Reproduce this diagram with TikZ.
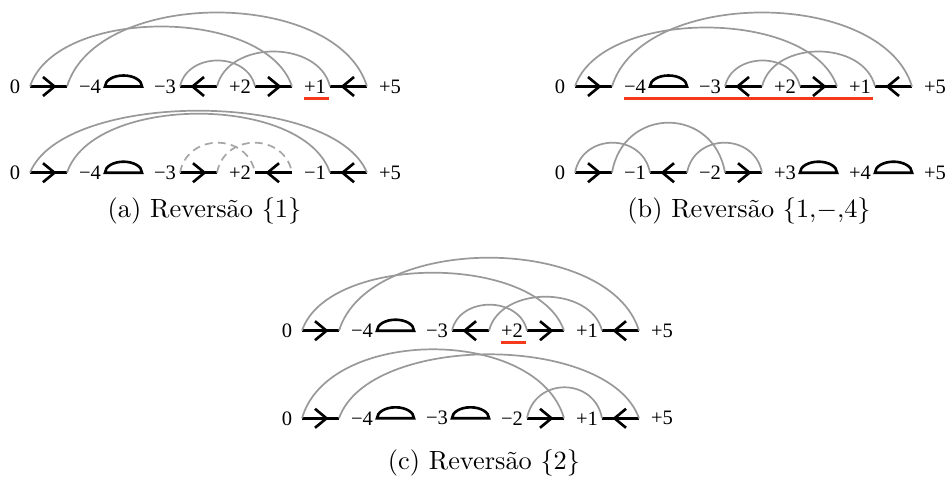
\documentclass[tikz,border=0pt]{standalone}
\usepackage{fontspec}
\newfontfamily\lblfont{Liberation Serif}
\usetikzlibrary{calc}
\definecolor{arcgrey}{HTML}{999999}
\definecolor{dashgrey}{HTML}{A6A6A6}
\definecolor{hired}{HTML}{F53A1B}
\tikzset{
  gene/.style={line width=1pt},
  link/.style={arcgrey,line width=0.65pt},
  ghost/.style={dashgrey,dash pattern=on 3pt off 2pt},
  lbl/.style={font=\lblfont\fontsize{7.8}{8}\selectfont,inner sep=0pt},
  redline/.style={hired,line width=1pt},
  capt/.style={inner sep=0pt}
}
% segment pointing right / left, with ends #1l and #1r
\newcommand{\fwd}[3]{\coordinate (#1l) at (#2,#3);\coordinate (#1r) at (#2+37,#3);
  \draw[gene] (#1l) -- (#1r);\draw[gene] (#2+13,#3+9.5) -- (#2+24.5,#3) -- (#2+13,#3-9.5);}
\newcommand{\rev}[3]{\coordinate (#1l) at (#2,#3);\coordinate (#1r) at (#2+37,#3);
  \draw[gene] (#1l) -- (#1r);\draw[gene] (#2+24,#3+9.5) -- (#2+12.5,#3) -- (#2+24,#3-9.5);}
% capped end
\newcommand{\telo}[3]{\coordinate (#1l) at (#2,#3);\coordinate (#1r) at (#2+37,#3);
  \draw[gene] (#1l) -- (#1r) arc[start angle=0,end angle=180,x radius=18.5,y radius=11] -- cycle;}
\newcommand{\tags}[3]{\foreach \t [count=\i from 0] in {#3} {\node[lbl] (#1t\i) at (15+75*\i,#2) {\t};}}
\newcommand{\pairarc}[4][]{\draw[link,#1] (#2) .. controls ($(#2)!0.1!(#3)+(0,#4*4/3)$) and ($(#2)!0.9!(#3)+(0,#4*4/3)$) .. (#3);}

\begin{document}
\begin{tikzpicture}[x=0.38pt,y=0.38pt]
\useasboundingbox (0,0) rectangle (945,481);

% (a)
\tags{a1}{394.5}{0,−4,−3,+2,+1,+5}
\fwd{a1s1}{30}{394.5}\telo{a1s2}{105}{394.5}\rev{a1s3}{180}{394.5}\fwd{a1s4}{255}{394.5}\rev{a1s5}{330}{394.5}
\pairarc{a1s1l}{a1s4r}{60}\pairarc{a1s1r}{a1s5r}{74}
\pairarc{a1s3l}{a1s4l}{26}\pairarc{a1s3r}{a1s5l}{35}
\draw[redline] ($(a1t4)+(-11,-12)$) -- ($(a1t4)+(14,-12)$);

\tags{a2}{308.3}{0,−4,−3,+2,−1,+5}
\fwd{a2s1}{30}{308.3}\telo{a2s2}{105}{308.3}\fwd{a2s3}{180}{308.3}\rev{a2s4}{255}{308.3}\rev{a2s5}{330}{308.3}
\pairarc{a2s1l}{a2s5r}{62}\pairarc{a2s1r}{a2s5l}{59}
\pairarc[ghost]{a2s3l}{a2s4l}{30}\pairarc[ghost]{a2s3r}{a2s4r}{30}
\node[capt] (capa) at (204.5,270) {(a) Reversão $\{1\}$};

% (b)
\begin{scope}[shift={(545,0)}]
\tags{b1}{394.5}{0,−4,−3,+2,+1,+5}
\fwd{b1s1}{30}{394.5}\telo{b1s2}{105}{394.5}\rev{b1s3}{180}{394.5}\fwd{b1s4}{255}{394.5}\rev{b1s5}{330}{394.5}
\pairarc{b1s1l}{b1s4r}{59}\pairarc{b1s1r}{b1s5r}{74}
\pairarc{b1s3l}{b1s4l}{26}\pairarc{b1s3r}{b1s5l}{35}
\draw[redline] ($(b1t1)+(-11,-12)$) -- ($(b1t4)+(13,-12)$);

\tags{b2}{308.3}{0,−1,−2,+3,+4,+5}
\fwd{b2s1}{30}{308.3}\rev{b2s2}{105}{308.3}\fwd{b2s3}{180}{308.3}\telo{b2s4}{255}{308.3}\telo{b2s5}{330}{308.3}
\pairarc{b2s1l}{b2s2l}{30}\pairarc{b2s1r}{b2s3l}{50}\pairarc{b2s2r}{b2s3r}{30}
\node[capt] (capb) at (204,270) {(b) Reversão $\{1{,}{-}{,}4\}$};
\end{scope}

% (c)
\begin{scope}[shift={(272,0)}]
\tags{c1}{150.3}{0,−4,−3,+2,+1,+5}
\fwd{c1s1}{30}{150.3}\telo{c1s2}{105}{150.3}\rev{c1s3}{180}{150.3}\fwd{c1s4}{255}{150.3}\rev{c1s5}{330}{150.3}
\pairarc{c1s1l}{c1s4r}{58}\pairarc{c1s1r}{c1s5r}{73}
\pairarc{c1s3l}{c1s4l}{26}\pairarc{c1s3r}{c1s5l}{34}
\draw[redline] ($(c1t3)+(-11,-12)$) -- ($(c1t3)+(14,-12)$);

\tags{c2}{62.7}{0,−4,−3,−2,+1,+5}
\fwd{c2s1}{30}{62.7}\telo{c2s2}{105}{62.7}\telo{c2s3}{180}{62.7}\fwd{c2s4}{255}{62.7}\rev{c2s5}{330}{62.7}
\pairarc{c2s1l}{c2s4r}{69}\pairarc{c2s1r}{c2s5r}{64}\pairarc{c2s4l}{c2s5l}{31}
\node[capt] (capc) at (212,18) {(c) Reversão $\{2\}$};
\end{scope}
\end{tikzpicture}
\end{document}
